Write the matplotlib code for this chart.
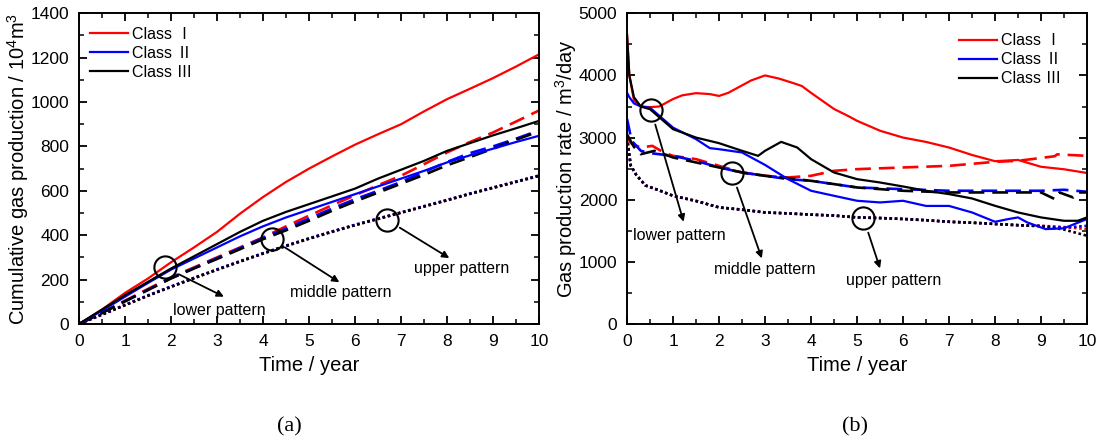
import matplotlib
matplotlib.use("Agg")
import matplotlib.pyplot as plt
from matplotlib.ticker import MultipleLocator

plt.rcParams['font.family'] = ['Liberation Sans', 'Noto Sans CJK SC', 'DejaVu Sans']
plt.rcParams['mathtext.fontset'] = 'custom'
plt.rcParams['mathtext.rm'] = 'Liberation Sans'

# ---- (a) cumulative gas production, 10^4 m^3 ----
t_cum = [0, 0.5, 1, 1.5, 2, 2.5, 3, 3.5, 4, 4.5, 5, 5.5, 6, 6.5, 7, 7.5, 8, 8.5, 9, 9.5, 10]
cum_I_lower = [0, 65, 140, 205, 278, 345, 415, 497, 572, 640, 700, 755, 808, 855, 900, 958, 1013, 1060, 1108, 1160, 1215]
cum_II_lower = [0, 60, 123, 185, 245, 295, 345, 395, 440, 480, 515, 550, 585, 620, 655, 690, 728, 760, 790, 820, 848]
cum_III_lower = [0, 65, 130, 190, 250, 305, 360, 415, 465, 505, 540, 575, 610, 655, 695, 735, 780, 815, 850, 882, 915]
cum_I_middle = [0, 50, 105, 158, 210, 255, 300, 345, 390, 440, 488, 535, 580, 625, 668, 720, 773, 820, 863, 912, 962]
cum_II_middle = [0, 50, 103, 155, 207, 252, 297, 342, 388, 430, 475, 520, 562, 600, 640, 685, 730, 770, 800, 835, 872]
cum_III_middle = [0, 50, 102, 153, 205, 250, 293, 337, 382, 422, 465, 510, 552, 592, 632, 672, 715, 752, 790, 830, 868]
cum_I_upper = [0, 43, 85, 128, 168, 207, 245, 282, 318, 352, 385, 416, 446, 474, 502, 530, 558, 587, 614, 641, 668]
cum_II_upper = [0, 43, 86, 129, 169, 208, 246, 283, 319, 353, 386, 417, 447, 475, 503, 531, 559, 588, 615, 642, 669]
cum_III_upper = [0, 42, 85, 127, 167, 206, 244, 281, 317, 351, 384, 415, 445, 473, 501, 529, 557, 586, 613, 640, 667]

# ---- (b) gas production rate, m^3/day ----
t_I_lower = [0, 0.05, 0.15, 0.3, 0.5, 0.7, 1.0, 1.2, 1.5, 1.8, 2.0, 2.2, 2.4, 2.7, 3.0, 3.3, 3.6, 3.8, 4.0, 4.5, 4.8, 5.0, 5.5, 6.0, 6.5, 7.0, 7.5, 8.0, 8.5, 9.0, 9.5, 10]
rate_I_lower = [4650, 4000, 3600, 3500, 3490, 3500, 3620, 3680, 3715, 3700, 3670, 3720, 3800, 3920, 4000, 3950, 3880, 3830, 3720, 3460, 3350, 3270, 3110, 3000, 2930, 2840, 2720, 2620, 2640, 2530, 2490, 2430]
t_II_lower = [0, 0.05, 0.15, 0.3, 0.5, 1.0, 1.5, 1.8, 2.0, 2.5, 3.0, 3.5, 4.0, 4.5, 5.0, 5.5, 6.0, 6.5, 7.0, 7.5, 8.0, 8.3, 8.5, 8.7, 9.1, 9.5, 10]
rate_II_lower = [3720, 3650, 3550, 3500, 3480, 3160, 2975, 2830, 2813, 2760, 2560, 2330, 2144, 2063, 1983, 1956, 1983, 1900, 1900, 1795, 1645, 1690, 1715, 1635, 1527, 1540, 1690]
t_III_lower = [0, 0.05, 0.15, 0.3, 0.5, 1.0, 1.5, 2.0, 2.5, 2.85, 3.0, 3.35, 3.7, 4.0, 4.5, 5.0, 5.5, 6.0, 6.5, 7.0, 7.5, 8.0, 8.5, 9.0, 9.5, 9.8, 10]
rate_III_lower = [4650, 4000, 3650, 3500, 3456, 3135, 3000, 2910, 2787, 2706, 2787, 2931, 2840, 2653, 2438, 2331, 2277, 2213, 2144, 2090, 2020, 1902, 1795, 1715, 1661, 1661, 1715]
t_I_middle = [0, 0.1, 0.3, 0.55, 0.8, 1.0, 1.5, 2.0, 2.5, 3.0, 3.5, 4.0, 4.5, 5.0, 6.0, 7.0, 8.0, 8.5, 9.3, 9.35, 10]
rate_I_middle = [3000, 2900, 2840, 2867, 2760, 2706, 2653, 2545, 2438, 2385, 2358, 2385, 2465, 2492, 2519, 2545, 2610, 2626, 2700, 2730, 2706]
t_II_middle = [0, 0.1, 0.3, 0.5, 1.0, 1.5, 2.0, 2.5, 3.0, 3.5, 4.0, 4.5, 5.0, 6.0, 7.0, 8.0, 9.0, 9.5, 10]
rate_II_middle = [3300, 2950, 2787, 2750, 2706, 2626, 2519, 2438, 2385, 2331, 2304, 2251, 2197, 2170, 2144, 2144, 2144, 2160, 2128]
t_III_middle = [0, 0.15, 0.3, 0.6, 1.0, 1.5, 2.0, 2.5, 3.0, 3.5, 4.0, 4.5, 5.0, 6.0, 7.0, 8.0, 9.0, 9.3, 9.4, 9.7, 9.8, 10]
rate_III_middle = [3050, 2850, 2733, 2787, 2680, 2600, 2519, 2438, 2385, 2347, 2304, 2251, 2197, 2144, 2117, 2117, 2117, 2010, 2117, 2036, 2117, 2117]
t_upper = [0, 0.08, 0.2, 0.4, 0.7, 1.0, 1.5, 2.0, 2.5, 3.0, 3.5, 4.0, 4.5, 5.0, 5.5, 6.0, 6.5, 7.0, 7.5, 8.0, 8.5, 9.0, 9.5, 10]
rate_I_upper = [3000, 2550, 2400, 2230, 2150, 2063, 1980, 1876, 1840, 1795, 1780, 1760, 1745, 1715, 1705, 1690, 1670, 1645, 1630, 1610, 1590, 1581, 1560, 1527]
rate_II_upper = [3000, 2550, 2400, 2230, 2150, 2063, 1980, 1876, 1840, 1795, 1780, 1760, 1745, 1715, 1705, 1690, 1670, 1645, 1630, 1610, 1590, 1575, 1550, 1580]
rate_III_upper = [3000, 2550, 2400, 2230, 2150, 2063, 1980, 1876, 1840, 1795, 1780, 1760, 1745, 1715, 1705, 1690, 1670, 1645, 1630, 1610, 1590, 1575, 1520, 1420]

labels = ['Class \u2160', 'Class \u2161', 'Class \u2162']
colors = ['#ff0000', '#0000ff', '#000000']

solid = dict(lw=1.6, ls='-')
dashed = dict(lw=1.9, ls=(0, (6, 3)))
dotted = dict(lw=1.9, ls=(0, (1, 1)))

fig = plt.figure(figsize=(11.02, 4.42), dpi=100)
ax1 = fig.add_axes([0.0717, 0.2670, 0.4174, 0.7029])
ax2 = fig.add_axes([0.5690, 0.2670, 0.4174, 0.7029])

# (a)
for ys, c in zip([cum_I_upper, cum_II_upper, cum_III_upper], colors):
    ax1.plot(t_cum, ys, color=c, **dotted)
for ys, c in zip([cum_I_middle, cum_II_middle, cum_III_middle], colors):
    ax1.plot(t_cum, ys, color=c, **dashed)
handles = []
for ys, c, lab in zip([cum_I_lower, cum_II_lower, cum_III_lower], colors, labels):
    h, = ax1.plot(t_cum, ys, color=c, label=lab, **solid)
    handles.append(h)

# (b)
ax2.plot(t_upper, rate_I_upper, color=colors[0], **dotted)
ax2.plot(t_upper, rate_II_upper, color=colors[1], **dotted)
ax2.plot(t_upper, rate_III_upper, color=colors[2], **dotted)
ax2.plot(t_I_middle, rate_I_middle, color=colors[0], **dashed)
ax2.plot(t_II_middle, rate_II_middle, color=colors[1], **dashed)
ax2.plot(t_III_middle, rate_III_middle, color=colors[2], **dashed)
ax2.plot(t_I_lower, rate_I_lower, color=colors[0], label=labels[0], **solid)
ax2.plot(t_II_lower, rate_II_lower, color=colors[1], label=labels[1], **solid)
ax2.plot(t_III_lower, rate_III_lower, color=colors[2], label=labels[2], **solid)


def annotate(ax, circ, tip, text_xy, text):
    ax.plot(*circ, marker='o', ms=16, mfc='none', mec='black', mew=1.5, zorder=5)
    ax.annotate('', xy=tip, xytext=circ,
                arrowprops=dict(arrowstyle='-|>', color='black', lw=1.3,
                                mutation_scale=10, shrinkA=11, shrinkB=0))
    ax.text(text_xy[0], text_xy[1], text, ha='center', va='center', fontsize=11.5)


annotate(ax1, (1.87, 255), (3.15, 123), (3.06, 60), 'lower pattern')
annotate(ax1, (4.19, 383), (5.66, 188), (5.68, 143), 'middle pattern')
annotate(ax1, (6.69, 470), (8.05, 297), (8.31, 251), 'upper pattern')

annotate(ax2, (0.52, 3446), (1.23, 1645), (1.13, 1431), 'lower pattern')
annotate(ax2, (2.28, 2428), (2.93, 1056), (3.0, 873), 'middle pattern')
annotate(ax2, (5.14, 1704), (5.50, 895), (5.79, 697), 'upper pattern')

for ax in (ax1, ax2):
    ax.set_xlim(0, 10)
    ax.xaxis.set_major_locator(MultipleLocator(1))
    ax.xaxis.set_minor_locator(MultipleLocator(0.5))
    ax.tick_params(which='both', direction='in', top=True, right=True,
                   labelsize=12.5, pad=7)
    ax.tick_params(which='major', length=6, width=1.3)
    ax.tick_params(which='minor', length=3.5, width=1.1)
    for s in ax.spines.values():
        s.set_linewidth(1.4)
    ax.set_xlabel('Time / year', fontsize=14.5, labelpad=5)

ax1.set_ylim(0, 1400)
ax1.yaxis.set_major_locator(MultipleLocator(200))
ax1.yaxis.set_minor_locator(MultipleLocator(100))
ax1.set_ylabel(r'Cumulative gas production / 10$^{4}$m$^{3}$', fontsize=14.5, labelpad=0)

ax2.set_ylim(0, 5000)
ax2.yaxis.set_major_locator(MultipleLocator(1000))
ax2.yaxis.set_minor_locator(MultipleLocator(500))
ax2.set_ylabel(r'Gas production rate / m$^{3}$/day', fontsize=14.5, labelpad=0)

leg_kw = dict(frameon=False, fontsize=11.5, handlelength=2.35, handletextpad=0.26,
              labelspacing=0.25, borderaxespad=0, borderpad=0, loc='upper left')
ax1.legend(handles=handles, bbox_to_anchor=(0.024, 0.957), **leg_kw)
ax2.legend(bbox_to_anchor=(0.722, 0.935), **leg_kw)

fig.text(0.263, 0.034, '(a)', fontsize=16, family='Liberation Serif', ha='center', va='center')
fig.text(0.776, 0.034, '(b)', fontsize=16, family='Liberation Serif', ha='center', va='center')

fig.savefig('out.png', dpi=100)
